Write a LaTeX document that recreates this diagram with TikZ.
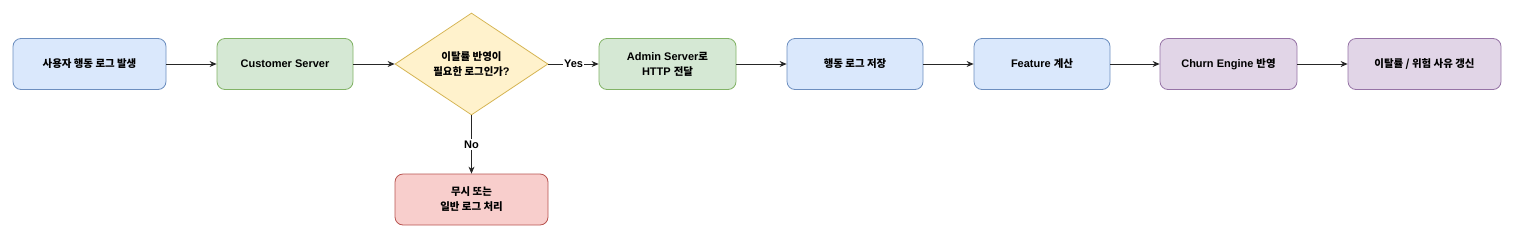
\documentclass[tikz,border=0pt]{standalone}
\usepackage{fontspec}
\setmainfont{Liberation Sans}
\newfontfamily\krf{Noto Sans CJK KR}[Scale=0.95]
\newcommand{\kr}[1]{{\krf\bfseries #1}}
\usetikzlibrary{shapes.geometric,arrows.meta}
\definecolor{bfill}{HTML}{DAE8FC}\definecolor{bline}{HTML}{6C8EBF}
\definecolor{gfill}{HTML}{D5E8D4}\definecolor{gline}{HTML}{82B366}
\definecolor{yfill}{HTML}{FFF2CC}\definecolor{yline}{HTML}{D6B656}
\definecolor{rfill}{HTML}{F8CECC}\definecolor{rline}{HTML}{B85450}
\definecolor{pfill}{HTML}{E1D5E7}\definecolor{pline}{HTML}{9673A6}
\begin{document}
\begin{tikzpicture}[x=1pt,y=-1pt,
  every node/.style={font=\fontsize{11}{15}\selectfont\bfseries, align=center, inner sep=0pt},
  box/.style={draw, rounded corners=8pt, line width=0.8pt, minimum height=51pt},
  bluebox/.style={box, fill=bfill, draw=bline},
  greenbox/.style={box, fill=gfill, draw=gline},
  redbox/.style={box, fill=rfill, draw=rline},
  purplebox/.style={box, fill=pfill, draw=pline},
  decision/.style={diamond, draw=yline, fill=yfill, line width=0.8pt, minimum width=153pt, minimum height=102pt, aspect=1.5, inner sep=0pt},
  arr/.style={draw=black!85, line width=0.8pt, -{Stealth[length=7pt,width=6pt]}},
  lbl/.style={fill=white, inner sep=1.5pt}]
\useasboundingbox (0,0) rectangle (1514,239);
\node[bluebox, minimum width=153pt] (n1) at (89.5,64) {\kr{사용자 행동 로그 발생}};
\node[greenbox, minimum width=136pt] (n2) at (285,64) {Customer Server};
\node[decision] (d) at (471.5,64) {};
\node at (d.center) {\kr{이탈률 반영이}\\\kr{필요한 로그인가}?};
\node[greenbox, minimum width=137pt] (n4) at (667.5,64) {Admin Server\kr{로}\\HTTP \kr{전달}};
\node[redbox, minimum width=153pt] (n5) at (471.5,199.5) {\kr{무시 또는}\\\kr{일반 로그 처리}};
\node[bluebox, minimum width=136pt] (n6) at (855,64) {\kr{행동 로그 저장}};
\node[bluebox, minimum width=136pt] (n7) at (1042,64) {Feature \kr{계산}};
\node[purplebox, minimum width=137pt] (n8) at (1228.5,64) {Churn Engine \kr{반영}};
\node[purplebox, minimum width=153pt] (n9) at (1424.5,64) {\kr{이탈률 / 위험 사유 갱신}};
\draw[arr] (n1) -- (n2);
\draw[arr] (n2) -- (d);
\draw[arr] (d) -- node[lbl] {Yes} (n4);
\draw[arr] (d) -- node[lbl, pos=0.5] {No} (n5);
\draw[arr] (n4) -- (n6);
\draw[arr] (n6) -- (n7);
\draw[arr] (n7) -- (n8);
\draw[arr] (n8) -- (n9);
\end{tikzpicture}
\end{document}
